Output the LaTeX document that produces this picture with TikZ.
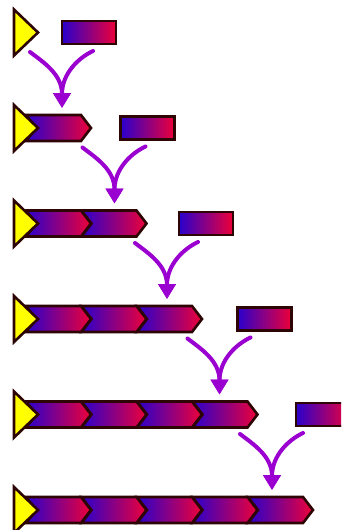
\documentclass[tikz,border=0pt]{standalone}
\usetikzlibrary{arrows.meta}
\definecolor{outl}{HTML}{2E0505}
\definecolor{gblue}{HTML}{2A00CC}
\definecolor{gred}{HTML}{EE0038}
\definecolor{arrp}{HTML}{9A00D0}
\definecolor{tyel}{HTML}{FFFF00}
\tikzset{
  chev/.style={draw=outl, line width=2.6pt, line join=miter, left color=gblue, right color=gred},
  bar/.style={draw=outl, line width=2.6pt, left color=gblue, right color=gred},
  tri/.style={draw=outl, line width=2.6pt, fill=tyel, line join=miter},
  arr/.style={draw=arrp, line width=4pt, line cap=round, -{Triangle[length=15pt,width=17pt]}}
}
\begin{document}
\begin{tikzpicture}[x=1pt,y=-1pt]
\useasboundingbox (0,0) rectangle (341,530);
\clip (0,0) rectangle (341,530);
\foreach \r in {0,...,5}{
  \pgfmathsetmacro{\yc}{32.5+95.5*\r}
  % chevrons
  \ifnum\r>0
    \pgfmathtruncatemacro{\last}{\r-1}
    \foreach \i in {0,...,\last}{
      \pgfmathsetmacro{\xz}{26+55.5*\i}
      \path[chev] (\xz,\yc-13) -- (\xz+55,\yc-13) -- (\xz+65,\yc) -- (\xz+55,\yc+13) -- (\xz,\yc+13) -- (\xz+10,\yc) -- cycle;
    }
  \fi
  % triangle
  \path[tri] (14,\yc-23) -- (38,\yc) -- (14,\yc+23) -- cycle;
  % separate bar and arrow
  \ifnum\r<5
    \pgfmathsetmacro{\xb}{62+58.5*\r}
    \path[bar] (\xb,\yc-11.5) rectangle (\xb+54,\yc+11.5);
    \pgfmathsetmacro{\tx}{62+52.5*\r}
    \coordinate (L\r) at (\tx-32,\yc+19.5);
    \coordinate (R\r) at (\tx+31,\yc+18.5);
    \coordinate (T\r) at (\tx,\yc+75.5);
    \draw[arr] (L\r) .. controls ([xshift=13pt,yshift=-10pt]L\r) and ([yshift=34pt]T\r) .. (T\r);
    \draw[arr] (R\r) .. controls ([xshift=-15pt,yshift=-7pt]R\r) and ([yshift=34pt]T\r) .. (T\r);
  \fi
}
\end{tikzpicture}
\end{document}
